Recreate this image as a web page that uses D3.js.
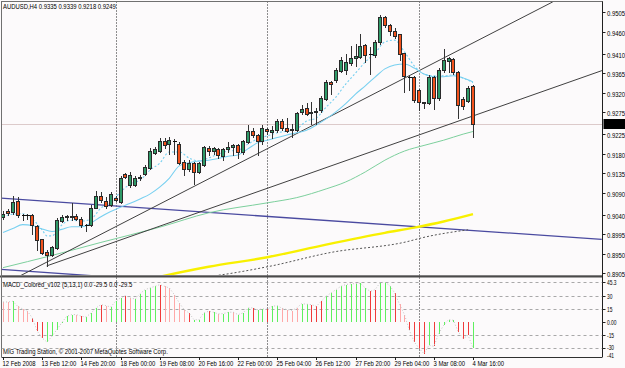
<!DOCTYPE html>
<html><head><meta charset="utf-8">
<script src="https://cdn.jsdelivr.net/npm/d3@7"></script>
<style>
body{margin:0;background:#fcfafb}
svg{display:block}
text{font-family:"Liberation Sans",Arial,sans-serif;font-size:8px;fill:#000}
</style>
</head><body>
<svg id="c" width="625" height="368"></svg>
<script>
// ---------- DATA ----------
const opens=[.9034,.9048,.9046,.9071,.9039,.9038,.9040,.9013,.8983,.8954,.8947,.8964,.9025,.9035,.9036,.9037,.9029,.9016,.9016,.9056,
.9082,.9071,.9061,.9078,.9068,.9133,.9108,.9108,.9125,.9133,.9147,.9182,.9186,.9209,.9202,.9209,.9203,.9161,.9144,.9159,
.9138,.9154,.9194,.9186,.9190,.9174,.9190,.9196,.9200,.9183,.9207,.9233,.9222,.9209,.9236,.9230,.9234,.9255,.9240,.9236,
.9234,.9275,.9284,.9273,.9275,.9280,.9305,.9344,.9349,.9370,.9372,.9389,.9399,.9403,.9429,.9408,.9407,.9436,.9495,.9476,
.9462,.9454,.9412,.9356,.9357,.9326,.9298,.9297,.9357,.9307,.9372,.9393,.9397,.9368,.9305,.9301,.9335];
const highs=[.9048,.9052,.9082,.9081,.9042,.9042,.9042,.9016,.8985,.8958,.8967,.9031,.9039,.9039,.9066,.9041,.9035,.9019,.9062,.9094,
.9092,.9081,.9092,.9082,.9128,.9136,.9138,.9128,.9131,.9154,.9192,.9196,.9216,.9215,.9219,.9213,.9207,.9165,.9165,.9161,
.9161,.9197,.9197,.9196,.9192,.9192,.9207,.9203,.9203,.9211,.9247,.9238,.9226,.9246,.9238,.9243,.9259,.9259,.9263,.9249,
.9276,.9291,.9297,.9299,.9284,.9312,.9349,.9347,.9376,.9403,.9410,.9428,.9433,.9455,.9433,.9426,.9441,.9498,.9496,.9478,
.9468,.9456,.9412,.9359,.9358,.9328,.9299,.9361,.9359,.9376,.9420,.9403,.9399,.9370,.9311,.9335,.9339];
const lows=[.9029,.9039,.9042,.9035,.9027,.9029,.8996,.8958,.8950,.8922,.8944,.8962,.9022,.9027,.9027,.9027,.9012,.9002,.9013,.9054,
.9069,.9056,.9059,.9071,.9066,.9124,.9104,.9106,.9119,.9131,.9144,.9180,.9183,.9192,.9180,.9180,.9157,.9131,.9140,.9110,
.9136,.9151,.9177,.9180,.9171,.9165,.9184,.9177,.9169,.9180,.9205,.9219,.9177,.9203,.9226,.9215,.9230,.9234,.9229,.9219,
.9232,.9271,.9268,.9249,.9249,.9276,.9303,.9318,.9345,.9367,.9364,.9384,.9381,.9401,.9391,.9364,.9403,.9433,.9472,.9453,
.9445,.9395,.9322,.9326,.9299,.9280,.9284,.9294,.9283,.9303,.9368,.9368,.9364,.9261,.9282,.9299,.9218];
const closes=[.9042,.9044,.9069,.9040,.9038,.9039,.9016,.8981,.8952,.8947,.8966,.9027,.9035,.9036,.9035,.9030,.9016,.9017,.9054,.9082,
.9073,.9059,.9088,.9073,.9125,.9127,.9131,.9125,.9126,.9150,.9186,.9190,.9209,.9200,.9211,.9210,.9159,.9144,.9159,.9138,
.9159,.9196,.9186,.9193,.9176,.9190,.9196,.9200,.9185,.9209,.9232,.9224,.9209,.9238,.9231,.9234,.9255,.9238,.9232,.9235,
.9274,.9282,.9272,.9275,.9277,.9309,.9345,.9340,.9372,.9395,.9391,.9401,.9405,.9428,.9407,.9409,.9436,.9495,.9476,.9462,
.9451,.9410,.9358,.9357,.9303,.9298,.9297,.9357,.9309,.9372,.9395,.9399,.9367,.9292,.9289,.9332,.9249];

// moving averages (bar index, price)
const maFastBar=[0,2,4,6,8,9,10,11,12,14,16,18,20,22,24,26,28,30,32,34,36,38,40,42,44,46,48,50,52,54,56,58,60,62,64,66,68,70,72,74,76,78,80,82,84,86,88,90,92,94,96];
const maFastVal=[.9034,.9041,.9042,.9030,.9005,.8991,.8991,.9002,.9016,.9027,.9025,.9030,.9055,.9067,.9092,.9110,.9119,.9142,.9158,.9184,.9184,.9170,.9163,.9170,.9179,.9186,.9188,.9202,.9214,.9221,.9228,.9232,.9237,.9255,.9262,.9287,.9310,.9340,.9365,.9391,.9411,.9437,.9441,.9414,.9382,.9363,.9359,.9359,.9361,.9354,.9343];
const maSlowBar=[0,2,4,6,8,10,12,14,16,18,20,22,24,26,28,30,32,34,36,38,40,42,44,46,48,50,52,54,56,58,60,62,64,66,68,70,72,74,76,78,80,82,84,86,88,90,92,94,96];
const maSlowVal=[.8999,.9008,.9017,.9015,.9007,.9001,.9006,.9012,.9012,.9021,.9035,.9047,.9057,.9066,.9076,.9087,.9103,.9124,.9152,.9159,.9163,.9165,.9169,.9174,.9177,.9191,.9205,.9211,.9217,.9223,.9228,.9234,.9246,.9260,.9276,.9295,.9317,.9336,.9356,.9375,.9384,.9386,.9377,.9363,.9357,.9357,.9359,.9354,.9345];
const maGreenBar=[0,10,20,32,42,54,60,66,70,74,78,82,86,90,94,96];
const maGreenVal=[.8918,.8946,.8976,.9011,.9044,.9067,.9079,.9099,.9115,.9138,.9165,.9186,.9199,.9211,.9225,.9231];
const maYellowBar=[30,32,42,54,66,78,84,90,96];
const maYellowVal=[.8892,.8897,.8920,.8942,.8971,.8998,.9010,.9024,.9041];
const maDotBar=[40,43,54,67,83,85,95];
const maDotVal=[.8895,.8899,.8920,.8953,.8979,.8985,.9005];

// trend lines [bar1, price1, bar2, price2]
const trendBlack=[[3.47,.8899,112.3,.9529],[8.93,.8922,122.34,.9371]];
const trendBlue=[[-0.61,.9078,122.3,.8983],[-0.61,.8914,122.3,.8819]];

const macd=[22.7,22.7,23.5,17.8,14.8,12.1,4.5,-10.6,-18.2,-23,-16.3,-8.7,-1,6.4,8.3,8.4,6.4,5.7,10.2,15.9,
19.7,18.6,17,23.5,27.3,30,27.3,26,32.2,36.7,38.6,40.5,42.4,40.5,38.6,31,21.6,14,10.2,2.7,
2.3,10.2,12.1,11,9.1,9.5,11,11.2,8.3,10.2,15.9,16,14,14.8,14.5,17.8,18.6,15.5,14,13,
15.9,20.8,20.2,19.7,17.8,23.5,29.2,33,36.7,40.5,42.5,43.3,43.6,44,38.6,34.8,36.7,44.5,45.3,41.3,
33,20,8.3,-9.5,-22.7,-30.3,-36,-26.5,-27.7,-13.3,-3.8,2.7,1.9,-11.4,-18.9,-15.2,-29.5];
const macdState="ffufffddduuuuuufduuudfuuudfuuuuudfffffduuudufuufuuuduuduuffffuuddduuuuuuuuudduuudffdddduduuuudddud";

const priceTicks=[.9505,.9460,.9410,.9365,.9320,.9275,.9225,.9180,.9135,.9090,.9040,.8995,.8950,.8905];
const macdLevels=[45,30,15,-15,-30];
const macdTickLabels=["45.3","30","15","0.00","-15","-30","-41"];
const macdTickVals=[45.3,30,15,0,-15,-30,-41];
const timeLabels=["12 Feb 2008","13 Feb 12:00","14 Feb 20:00","18 Feb 00:00","19 Feb 08:00","20 Feb 16:00","22 Feb 00:00","25 Feb 04:00","26 Feb 12:00","27 Feb 20:00","29 Feb 04:00","3 Mar 08:00","4 Mar 16:00"];
const timeLabelBars=[0,8,16,24,32,40,48,56,64,72,80,88,96];
const separatorBars=[23,54,85];
const lastPrice=.9249;

// ---------- LAYOUT ----------
const L=1.5,R=602.5,T=1.5,MB=276,ST=278,SB=357;
const svg=d3.select('#c');
const xs=d3.scaleLinear().domain([0,96]).range([3,473]);
const ys=d3.scaleLinear().domain([0.8905,0.9505]).range([273.3,12.3]);
const ms=d3.scaleLinear().domain([-41,45.3]).range([358,282.1]);
const px=i=>Math.round(xs(i))+0.5;

function txt(g,x,y,s,fill,sx){
  return g.append('text').attr('transform',`translate(${x},${y}) scale(${sx||0.74},1)`).attr('fill',fill||'#000').text(s);
}

const defs=svg.append('defs');
defs.append('clipPath').attr('id','cm').append('rect').attr('x',L).attr('y',T).attr('width',R-L).attr('height',MB-T-1);
defs.append('clipPath').attr('id','cs').append('rect').attr('x',L).attr('y',ST).attr('width',R-L).attr('height',SB-ST);

// price line
svg.append('line').attr('x1',L).attr('x2',R).attr('y1',Math.round(ys(lastPrice))+0.5).attr('y2',Math.round(ys(lastPrice))+0.5)
  .attr('stroke','#dccaca').attr('stroke-width',1);

// separators
separatorBars.forEach(b=>{
  svg.append('line').attr('x1',px(b)).attr('x2',px(b)).attr('y1',T).attr('y2',SB)
   .attr('stroke','#202020').attr('stroke-dasharray','1,2').attr('stroke-width',1);
});

const main=svg.append('g').attr('clip-path','url(#cm)');
const line=d3.line().x(d=>xs(d[0])).y(d=>ys(d[1])).curve(d3.curveMonotoneX);
function ma(bars,vals,color,w,dash){
  const p=main.append('path').datum(bars.map((b,i)=>[b,vals[i]])).attr('d',line)
   .attr('fill','none').attr('stroke',color).attr('stroke-width',w);
  if(dash)p.attr('stroke-dasharray',dash);
}
// trend lines
trendBlue.forEach(t=>{
  main.append('line').attr('x1',xs(t[0])).attr('y1',ys(t[1])).attr('x2',xs(t[2])).attr('y2',ys(t[3]))
   .attr('stroke','#4a4aa0').attr('stroke-width',1.3);
});
ma(maGreenBar,maGreenVal,'#7ccf9c',1);
ma(maYellowBar,maYellowVal,'#f8f000',2.4);
ma(maDotBar,maDotVal,'#555',1,'2,2');
trendBlack.forEach(t=>{
  main.append('line').attr('x1',xs(t[0])).attr('y1',ys(t[1])).attr('x2',xs(t[2])).attr('y2',ys(t[3]))
   .attr('stroke','#404040').attr('stroke-width',1);
});
ma(maSlowBar,maSlowVal,'#78d0f0',1.1);
ma(maFastBar,maFastVal,'#78d0f0',1.1,'2,2');

// candles
const cg=main.append('g');
opens.forEach((o,i)=>{
  const c=closes[i],x=px(i);
  cg.append('line').attr('x1',x).attr('x2',x).attr('y1',Math.round(ys(highs[i]))).attr('y2',Math.round(ys(lows[i]))+1)
    .attr('stroke','#333').attr('shape-rendering','crispEdges');
  const y1=Math.round(ys(Math.max(o,c))),y2=Math.round(ys(Math.min(o,c)));
  if(y2-y1<1){
    cg.append('line').attr('x1',x-2).attr('x2',x+2).attr('y1',y1+0.5).attr('y2',y1+0.5).attr('stroke','#111').attr('shape-rendering','crispEdges');
  } else {
    cg.append('rect').attr('x',x-2).attr('y',y1+0.5).attr('width',3).attr('height',y2-y1)
      .attr('fill',c>o?'#2f9a68':'#f2521c').attr('stroke','#2a2a2a').attr('stroke-width',1).attr('shape-rendering','crispEdges');
  }
});

// frames
svg.append('rect').attr('x',L).attr('y',T).attr('width',R-L).attr('height',MB-T).attr('fill','none').attr('stroke','#707070');
svg.append('line').attr('x1',0).attr('x2',R).attr('y1',276.5).attr('y2',276.5).attr('stroke','#4a4a4a').attr('stroke-width',2);
svg.append('line').attr('x1',R).attr('x2',R).attr('y1',T).attr('y2',SB).attr('stroke','#202020');
svg.append('line').attr('x1',L).attr('x2',L).attr('y1',T).attr('y2',SB).attr('stroke','#707070');
svg.append('line').attr('x1',L).attr('x2',R).attr('y1',SB+0.5).attr('y2',SB+0.5).attr('stroke','#303030');

// price axis
priceTicks.forEach(v=>{
  const y=Math.round(ys(v))+0.5;
  svg.append('line').attr('x1',R).attr('x2',R+3).attr('y1',y).attr('y2',y).attr('stroke','#202020');
  txt(svg,607,y+3,v.toFixed(4));
});
const ly=Math.round(ys(lastPrice));
svg.append('rect').attr('x',R+1).attr('y',ly-5).attr('width',22).attr('height',10).attr('fill','#000');
txt(svg,607,ly+3,lastPrice.toFixed(4),'#fff');

// MACD window
const sub=svg.append('g').attr('clip-path','url(#cs)');
macdLevels.forEach(v=>{
  sub.append('line').attr('x1',L).attr('x2',R).attr('y1',Math.round(ms(v))+0.5).attr('y2',Math.round(ms(v))+0.5)
   .attr('stroke','#a8a8a8').attr('stroke-dasharray','3,3');
});
const colorOf={u:'#5ef05e',d:'#f03a3a',f:'#ffa8a8'};
macd.forEach((v,i)=>{
  sub.append('line').attr('x1',px(i)).attr('x2',px(i)).attr('y1',Math.round(ms(0))).attr('y2',Math.round(ms(v)))
   .attr('stroke',colorOf[macdState[i]]).attr('stroke-width',1).attr('shape-rendering','crispEdges');
});
sub.append('path').datum(macd).attr('d',d3.line().x((d,i)=>xs(i)).y(d=>ms(d)))
  .attr('fill','none').attr('stroke','#c4c4c4').attr('stroke-dasharray','1,2');
const macdLabelY=[285,298.5,311.5,324.5,338,349.5,357.5];
macdTickVals.forEach((v,i)=>{
  const y=Math.round(ms(v))+0.5;
  if(i<6) svg.append('line').attr('x1',R).attr('x2',R+3).attr('y1',y).attr('y2',y).attr('stroke','#202020');
  txt(svg,607,macdLabelY[i],macdTickLabels[i],'#000',0.7).style('font-size','7px');
});

// time axis
timeLabelBars.forEach((b,i)=>{
  const x=px(b);
  svg.append('line').attr('x1',x).attr('x2',x).attr('y1',SB).attr('y2',SB+3).attr('stroke','#202020');
  txt(svg,x-1,366,timeLabels[i]);
});

// texts
txt(svg,3,9,"AUDUSD,H4  0.9335 0.9339 0.9218 0.9249");
txt(svg,3,287,"MACD_Colored_v102 (5,13,1) 0.0 -29.5 0.0 -29.5");
txt(svg,3,354,"MIG Trading Station, \u00a9 2001-2007 MetaQuotes Software Corp.");
</script>
</body></html>
